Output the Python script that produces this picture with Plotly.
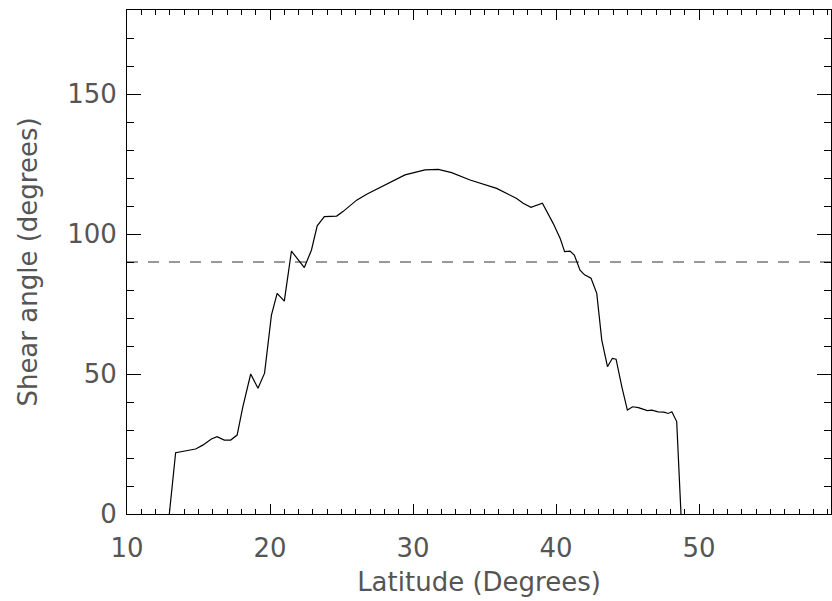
import plotly.graph_objects as go

latitude = [12.96, 13.4, 14.8, 15.3, 15.9, 16.3, 16.8, 17.25, 17.7, 18.1, 18.65, 19.16,
            19.62, 20.1, 20.5, 21.0, 21.5, 22.4, 22.9, 23.3, 23.8, 24.66, 25.1, 26.06,
            26.76, 27.7, 29.44, 30.84, 31.77, 32.7, 33.99, 35.85, 37.25, 37.7, 38.25,
            39.05, 39.8, 40.3, 40.6, 40.98, 41.28, 41.68, 42.0, 42.45, 42.85, 43.2,
            43.6, 43.94, 44.2, 44.6, 44.99, 45.36, 45.76, 46.39, 46.7, 47.15, 47.55,
            47.85, 48.1, 48.44, 48.74]
shear = [0, 21.9, 23.2, 24.6, 26.8, 27.6, 26.4, 26.4, 28.2, 38.3, 50.0, 44.9,
         50.3, 71.0, 78.8, 76.0, 93.9, 88.0, 94.3, 102.9, 106.2, 106.4, 108.0, 112.1,
         114.2, 116.7, 121.1, 122.9, 123.1, 121.9, 119.3, 116.3, 112.7, 111.0, 109.5,
         111.0, 103.8, 98.3, 93.7, 93.9, 92.5, 87.1, 85.4, 84.2, 78.8, 62.1,
         52.6, 55.6, 55.3, 45.5, 37.1, 38.3, 38.0, 36.9, 37.1, 36.5, 36.4,
         35.9, 36.5, 33.0, 0]

x_range = [10, 59.23]
y_range = [0, 180]
ref_level = 90

fig = go.Figure()
fig.add_trace(go.Scatter(x=x_range, y=[ref_level, ref_level], mode="lines",
                         line=dict(color="#333", width=1.2, dash="11px,10px"),
                         showlegend=False, hoverinfo="skip"))
fig.add_trace(go.Scatter(x=latitude, y=shear, mode="lines",
                         line=dict(color="black", width=1.2),
                         showlegend=False))

font = dict(family="DejaVu Sans", size=26, color="#555")
axis_common = dict(showgrid=False, zeroline=False, showline=True, linecolor="black",
                   linewidth=1, mirror="ticks", ticks="inside", tickcolor="black",
                   tickfont=font)

fig.update_layout(
    width=832, height=601,
    margin=dict(l=127, r=1, t=10, b=87),
    paper_bgcolor="white", plot_bgcolor="white",
    xaxis=dict(range=x_range, tickvals=[10, 20, 30, 40, 50], ticklen=10, tickwidth=1,
               ticklabelstandoff=11,
               minor=dict(dtick=1, ticks="inside", ticklen=5, tickcolor="black", tickwidth=1),
               title=dict(text="Latitude (Degrees)", font=font, standoff=10),
               **axis_common),
    yaxis=dict(range=y_range, tickvals=[0, 50, 100, 150], ticklen=14, tickwidth=1,
               ticklabelstandoff=4,
               minor=dict(dtick=10, ticks="inside", ticklen=7, tickcolor="black", tickwidth=1),
               title=dict(text="Shear angle (degrees)", font=font, standoff=22),
               **axis_common),
)

fig.write_html("out.html")
